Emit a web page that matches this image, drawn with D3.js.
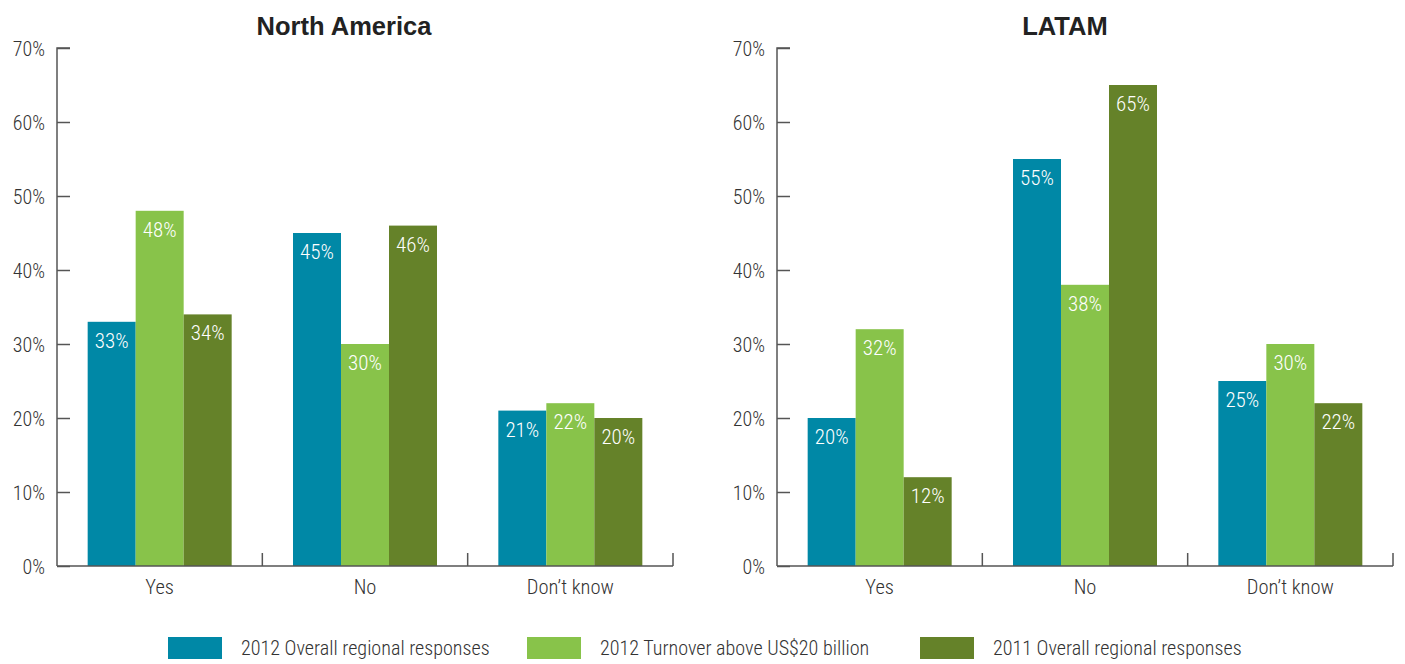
<!DOCTYPE html>
<html><head><meta charset="utf-8">
<script src="https://cdn.jsdelivr.net/npm/d3@7"></script>
<style>
body{margin:0;background:#fff;}
text{font-family:"Liberation Sans Narrow","Roboto Condensed","Arial Narrow",sans-serif;}
</style></head><body>
<svg id="c" width="1405" height="664"></svg>
<script>
const categories = ["Yes", "No", "Don\u2019t know"];
const seriesNames = ["2012 Overall regional responses", "2012 Turnover above US$20 billion", "2011 Overall regional responses"];
const colors = ["#0088a6", "#88c34a", "#658229"];
const northAmerica = [[33, 45, 21], [48, 30, 22], [34, 46, 20]];
const latam = [[20, 55, 25], [32, 38, 30], [12, 65, 22]];
const yTicks = [0, 10, 20, 30, 40, 50, 60, 70];
const panels = [
  {title: "North America", data: northAmerica, x0: 57, titleX: 344},
  {title: "LATAM", data: latam, x0: 777, titleX: 1065}
];

const svg = d3.select("#c");
const y = d3.scaleLinear().domain([0, 70]).range([566, 48]);
const axisColor = "#555";

panels.forEach(p => {
  const g = svg.append("g");
  const x = d3.scaleBand().domain(categories).range([p.x0, p.x0 + 616]).paddingInner(0).paddingOuter(0);
  const xs = d3.scaleBand().domain(d3.range(seriesNames.length)).range([0, 144]);
  const off = (x.bandwidth() - 144) / 2;

  g.append("text").attr("x", p.titleX).attr("y", 35).attr("text-anchor", "middle")
    .style("font-family", "'Liberation Sans', Arial, sans-serif").style("font-weight", "bold")
    .style("font-size", "25.5px").attr("fill", "#222").text(p.title);

  // bars
  categories.forEach((c, ci) => {
    seriesNames.forEach((s, si) => {
      const v = p.data[si][ci];
      const bx = x(c) + off + xs(si);
      g.append("rect").attr("x", bx).attr("y", y(v)).attr("width", xs.bandwidth())
        .attr("height", y(0) - y(v)).attr("fill", colors[si]);
      g.append("text").attr("x", bx + xs.bandwidth() / 2).attr("y", y(v) + 26)
        .attr("text-anchor", "middle").attr("fill", "#fff").style("font-size", "21px")
        .style("font-weight", "300").text(v + "%");
    });
  });

  // y axis
  const ya = d3.axisRight(y).tickValues(yTicks).tickSize(13).tickFormat(d => d + "%");
  const yg = g.append("g").attr("transform", `translate(${p.x0},0)`).call(ya);
  yg.select(".domain").attr("stroke", axisColor).attr("stroke-width", 1.5).attr("d", `M13,${y(70)}H0V${y(0)}`);
  yg.selectAll(".tick line").attr("stroke", axisColor).attr("stroke-width", 1.5);
  yg.selectAll(".tick text").attr("x", -12).attr("text-anchor", "end").attr("fill", "#333")
    .style("font-size", "20px").style("font-weight", "300").attr("dy", "0.35em");

  // x axis
  const xa = d3.axisBottom(x).tickSize(0).tickPadding(10);
  const xg = g.append("g").attr("transform", `translate(0,${y(0)})`).call(xa);
  xg.select(".domain").attr("stroke", axisColor).attr("stroke-width", 1.5).attr("d", `M${p.x0},0H${p.x0 + 616}`);
  xg.selectAll(".tick text").attr("fill", "#333").style("font-size", "20.5px").style("font-weight", "300")
    .attr("dy", "0.9em");
  // band separators
  categories.forEach(c => {
    g.append("line").attr("x1", x(c) + x.bandwidth()).attr("x2", x(c) + x.bandwidth())
      .attr("y1", y(0)).attr("y2", y(0) - 13).attr("stroke", axisColor).attr("stroke-width", 1.5);
  });
});

// legend
const legendX = [168, 527, 920];
const lg = svg.append("g");
seriesNames.forEach((s, i) => {
  lg.append("rect").attr("x", legendX[i]).attr("y", 637).attr("width", 54).attr("height", 22).attr("fill", colors[i]);
  lg.append("text").attr("x", legendX[i] + 73).attr("y", 648).attr("dy", "0.35em")
    .attr("fill", "#333").style("font-size", "20.1px").style("font-weight", "300").text(s);
});
</script></body></html>
